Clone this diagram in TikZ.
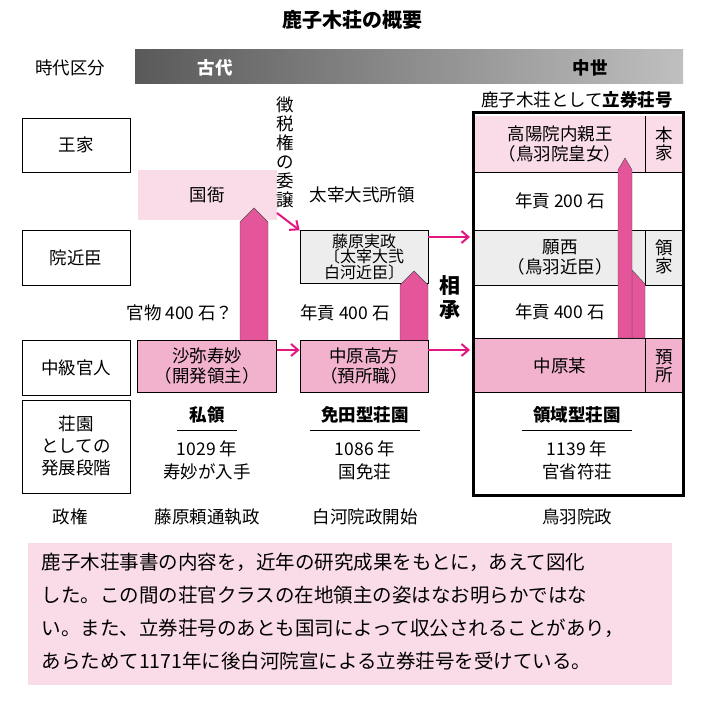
\documentclass[tikz,border=0pt]{standalone}
\usepackage{fontspec}
\setmainfont{Noto Sans CJK JP}
\usetikzlibrary{positioning,shadings,arrows.meta}
\definecolor{lpink}{HTML}{FADCE8}
\definecolor{mpink}{HTML}{F2B2CE}
\definecolor{hot}{HTML}{E5559A}
\definecolor{arr}{HTML}{E2177F}
\definecolor{lgray}{HTML}{EDEDED}
\begin{document}
\begin{tikzpicture}[x=1pt,y=-1pt,
    font=\fontsize{17.5}{20}\selectfont,
    lbox/.style={draw, thick},
    mbox/.style={draw, thick, fill=mpink, align=center},
    link/.style={-{Straight Barb[length=7pt,width=12pt]}, line width=2pt, draw=arr},
    up/.style={fill=hot, draw=black!70, thin},
    ttl/.style={font=\fontsize{17.5}{20}\selectfont\bfseries}
]
    \useasboundingbox (0,0) rectangle (703,703);
    \node[font=\fontsize{20}{22}\selectfont\bfseries] (title) at (352,20) {鹿子木荘の概要};

    % Period bar
    \shade[left color=black!65, right color=black!25] (135,50) rectangle (683,84);
    \node (era) at (70,68) {時代区分};
    \node[ttl, white] (ancient) at (215,68) {古代};
    \node[ttl] (medieval) at (590,68) {中世};

    % Left labels
    \draw[lbox] (22,118) rectangle (130,172); \node (royal) at (76,145) {王家};
    \draw[lbox] (22,230) rectangle (130,285); \node (inner) at (76,258) {院近臣};
    \draw[lbox] (22,340) rectangle (130,395); \node (mid) at (76,368) {中級官人};
    \draw[lbox] (22,400) rectangle (130,493);
    \node[align=center, font=\fontsize{17.5}{22}\selectfont] (stage) at (76,446) {荘園\\としての\\発展段階};

    % Ancient column
    \fill[lpink] (138,170) rectangle (277,220);
    \node (kokuga) at (207,195) {国衙};
    \node[align=center, font=\fontsize{17.5}{19}\selectfont, text width=18pt] (tax) at (285,152) {徴\\税\\権\\の\\委\\譲};
    \node (dazai) at (362,195) {太宰大弐所領};
    \node[draw, thick, fill=lgray, minimum width=128pt, minimum height=51pt, align=center,
        font=\fontsize{16}{15.5}\selectfont] (sanemasa) at (364,257) {藤原実政\\〔太宰大弐\\白河近臣〕};
    \node[mbox, minimum width=139pt, minimum height=52pt] (jumyo) at (207,366) {沙弥寿妙\\（開発領主）};
    \node[mbox, minimum width=128pt, minimum height=52pt] (takakata) at (364,366) {中原高方\\（預所職）};

    \draw[up] (240,340) -- (240,222) -- (254,208) -- (268,222) -- (268,340);
    \draw[up] (400,340) -- (400,285) -- (414,271) -- (428,285) -- (428,340);
    \node (kanmotsu) at (180,313) {官物 400 石？};
    \node (nengu1) at (345,313) {年貢 400 石};
    \node[font=\fontsize{21}{24}\selectfont\bfseries, align=center] (sosho) at (450,298) {相\\承};

    \coordinate (kokugaC) at (277,213);
    \draw[link] (kokugaC) -- (sanemasa.north west);
    \draw[link] (jumyo.east |- 0,350) -- (takakata.west |- 0,350);

    % Medieval column
    \node (ritsu) at (577,100) {鹿子木荘として\textbf{立券荘号}};
    \fill[lpink] (473,116) rectangle (683,172);
    \fill[lgray] (473,230) rectangle (683,285);
    \fill[mpink] (473,338) rectangle (683,392);
    \foreach \y in {172,230,285,338,392} \draw (473,\y) -- (683,\y);
    \draw (645,116) -- (645,172);
    \draw (645,230) -- (645,285);
    \draw (645,338) -- (645,392);
    \node[align=center] (honke) at (560,144) {高陽院内親王\\（鳥羽院皇女）};
    \node (nengu2) at (560,201) {年貢 200 石};
    \node[align=center] (gansai) at (560,257) {願西\\（鳥羽近臣）};
    \node (nengu3) at (560,312) {年貢 400 石};
    \node (nakahara) at (560,366) {中原某};
    \node[align=center, font=\fontsize{17.5}{18}\selectfont] (t1) at (664,144) {本\\家};
    \node[align=center, font=\fontsize{17.5}{18}\selectfont] (t2) at (664,257) {領\\家};
    \node[align=center, font=\fontsize{17.5}{18}\selectfont] (t3) at (664,366) {預\\所};
    \draw[up] (632,338) -- (632,270) -- (645,284) -- (645,338) -- cycle;
    \draw[up] (618,338) -- (618,170) -- (625,158) -- (632,170) -- (632,338) -- cycle;
    \draw[line width=3pt] (473,113) rectangle (683,495);

    \draw[link] (sanemasa.east |- 0,237) -- (470,237);
    \draw[link] (takakata.east |- 0,350) -- (470,350);

    % Stages
    \node[ttl] (s1) at (207,415) {私領};
    \node[ttl] (s2) at (365,415) {免田型荘園};
    \node[ttl] (s3) at (577,415) {領域型荘園};
    \foreach \n/\w in {s1/30,s2/55,s3/55} \draw ([yshift=-3pt,xshift=-\w pt]\n.south) -- ([yshift=-3pt,xshift=\w pt]\n.south);
    \node[align=center, font=\fontsize{17.5}{23}\selectfont] (y1) at (207,460) {1029 年\\寿妙が入手};
    \node[align=center, font=\fontsize{17.5}{23}\selectfont] (y2) at (365,460) {1086 年\\国免荘};
    \node[align=center, font=\fontsize{17.5}{23}\selectfont] (y3) at (577,460) {1139 年\\官省符荘};

    % Regimes
    \node (reg) at (70,517) {政権};
    \node (r1) at (207,517) {藤原頼通執政};
    \node (r2) at (365,517) {白河院政開始};
    \node (r3) at (577,517) {鳥羽院政};

    % Note
    \fill[lpink] (28,543) rectangle (672,685);
    \node[anchor=north west, align=left, font=\fontsize{19.5}{33}\selectfont] (note) at (38,550)
        {鹿子木荘事書の内容を，近年の研究成果をもとに，あえて図化\\した。この間の荘官クラスの在地領主の姿はなお明らかではな\\い。また、立券荘号のあとも国司によって収公されることがあり，\\あらためて1171年に後白河院宣による立券荘号を受けている。};
\end{tikzpicture}
\end{document}
